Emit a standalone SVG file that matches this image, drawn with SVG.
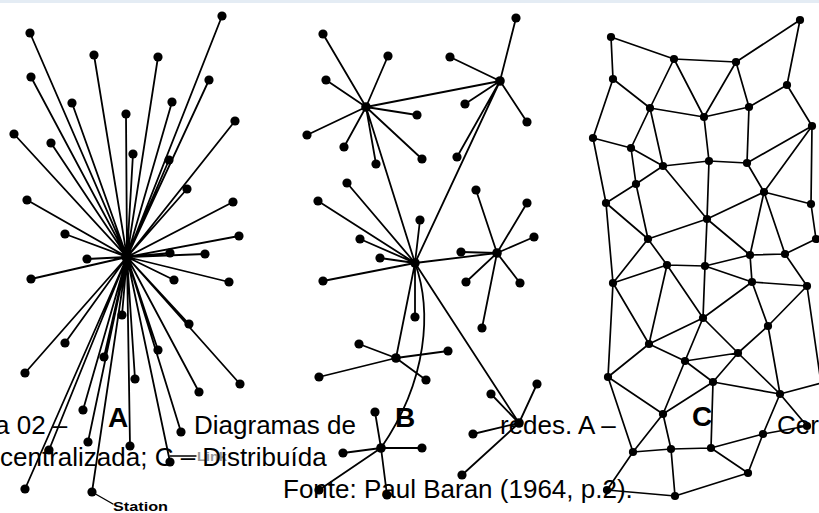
<svg xmlns="http://www.w3.org/2000/svg" width="819" height="513" viewBox="0 0 819 513">
<style>
.e{stroke:#000;stroke-width:1.8;fill:none;stroke-linecap:round}
.ec{stroke:#000;stroke-width:1.7;fill:none;stroke-linecap:round}
.n circle{fill:#000}
.cap{font-family:"Liberation Sans",Arial,sans-serif;font-size:26px;fill:#000}
.lbl{font-family:"Liberation Sans",Arial,sans-serif;font-size:28px;font-weight:bold;fill:#000}
.sm{font-family:"Liberation Sans",Arial,sans-serif;font-size:13px;font-weight:bold}
</style>
<rect x="0" y="0" width="819" height="513" fill="#fff"/>
<rect x="0" y="0" width="819" height="3" fill="#e4ecf4"/>

<g id="connectors">
 <g id="conn-A" class="e">
  <path d="M127,257L222,16M127,257L30,33M127,257L94,55M127,257L158,57M127,257L31,77M127,257L209,80M127,257L72,103M127,257L172,102M127,257L126,114M127,257L235,121M127,257L14,134M127,257L51,143M127,257L133,154M127,257L169,160M127,257L187,189M127,257L27,200M127,257L233,202M127,257L65,234M127,257L239,236M127,257L170,253M127,257L205,254M127,257L87,259M127,257L31,279M127,257L174,280M127,257L229,282M127,257L122,315M127,257L189,324M127,257L65,343M127,257L104,357M127,257L158,350M127,257L25,373M127,257L135,379M127,257L240,384M127,257L199,392M127,257L83,410M127,257L181,432M127,257L88,442M127,257L130,446M127,257L49,450M127,257L170,462M127,257L25,489M127,257L92,492"/>
  <path d="M92,492L113,504" stroke-width="1.4"/>
  <path d="M170,456L196,456" stroke-width="1.4"/>
 </g>
 <g id="conn-B" class="e">
  <path d="M366,107L323,34M366,107L388,56M366,107L326,80M366,107L417,115M366,107L307,135M366,107L344,147M366,107L422,159M366,107L376,164M366,107L500,81M366,107L415,263"/>
  <path d="M500,81L516,18M500,81L450,57M500,81L465,104M500,81L527,122M500,81L457,157M500,81L415,263"/>
  <path d="M415,263L347,183M415,263L318,201M415,263L420,220M415,263L360,239M415,263L380,258M415,263L323,281M415,263L415,317M415,263L497,253M415,263L396,358M415,263L519,423"/>
  <path d="M415,263C432,310 428,380 381,448"/>
  <path d="M497,253L476,190M497,253L527,203M497,253L534,237M497,253L461,252M497,253L466,282M497,253L520,283M497,253L482,328"/>
  <path d="M396,358L359,344M396,358L448,351M396,358L319,377M396,358L426,380"/>
  <path d="M519,423L491,394M519,423L537,384M519,423L473,434M519,423L462,475"/>
  <path d="M381,448L375,412M381,448L343,453M381,448L422,448M381,448L319,490M381,448L387,495"/>
 </g>
 <g id="conn-C" class="ec">
  <path d="M611,37L674,59M611,37L613,79M674,59L736,62M736,62L800,20M800,20L787,85M674,59L650,108M674,59L704,117M736,62L704,117M736,62L749,107M787,85L749,107M787,85L812,126M613,79L650,108M613,79L593,138M650,108L704,117M704,117L749,107M650,108L631,148M650,108L663,166M593,138L631,148M593,138L606,203M631,148L663,166M631,148L636,184M663,166L709,161M709,161L747,163M704,117L709,161M749,107L747,163M747,163L812,126M812,126L764,192M747,163L764,192M812,126L811,204M663,166L636,184M636,184L606,203M636,184L648,239M663,166L707,219M709,161L707,219M764,192L707,219M764,192L811,204M764,192L750,255M764,192L785,254M606,203L648,239M707,219L648,239M707,219L750,255M811,204L816,239M816,239L785,254M750,255L785,254"/>
  <path d="M606,203L613,283M648,239L613,283M648,239L667,265M707,219L705,266M750,255L752,282M785,254L807,286M705,266L750,255"/>
  <path d="M667,265L705,266M705,266L752,282M752,282L807,286M613,283L667,265M667,265L649,344M667,265L703,318M705,266L703,318M752,282L703,318M752,282L768,326M807,286L768,326M768,326L738,353M768,326L780,394M807,286L821,383M613,283L649,344M613,283L608,377M703,318L649,344M703,318L685,361M703,318L738,353M649,344L685,361M649,344L608,377M685,361L738,353M685,361L713,382M685,361L663,414M738,353L713,382M738,353L780,394M608,377L663,414M608,377L633,452M713,382L663,414M713,382L780,394M713,382L711,448M780,394L821,383M780,394L763,434M780,394L807,426M763,434L807,426M663,414L633,452M663,414L671,449M763,434L711,448M763,434L748,473M633,452L671,449M671,449L711,448M711,448L748,473M633,452L607,490M671,449L675,496M748,473L675,496M607,490L675,496"/>
 </g>
</g>

<g class="n">
 <g id="a0"><circle cx="127" cy="257" r="5.8"/></g>
 <g id="a1"><circle cx="222" cy="16" r="4.6"/></g>
 <g id="a2"><circle cx="30" cy="33" r="4.6"/></g>
 <g id="a3"><circle cx="94" cy="55" r="4.6"/></g>
 <g id="a4"><circle cx="158" cy="57" r="4.6"/></g>
 <g id="a5"><circle cx="31" cy="77" r="4.6"/></g>
 <g id="a6"><circle cx="209" cy="80" r="4.6"/></g>
 <g id="a7"><circle cx="72" cy="103" r="4.6"/></g>
 <g id="a8"><circle cx="172" cy="102" r="4.6"/></g>
 <g id="a9"><circle cx="126" cy="114" r="4.6"/></g>
 <g id="a10"><circle cx="235" cy="121" r="4.6"/></g>
 <g id="a11"><circle cx="14" cy="134" r="4.6"/></g>
 <g id="a12"><circle cx="51" cy="143" r="4.6"/></g>
 <g id="a13"><circle cx="133" cy="154" r="4.6"/></g>
 <g id="a14"><circle cx="169" cy="160" r="4.6"/></g>
 <g id="a15"><circle cx="187" cy="189" r="4.6"/></g>
 <g id="a16"><circle cx="27" cy="200" r="4.6"/></g>
 <g id="a17"><circle cx="233" cy="202" r="4.6"/></g>
 <g id="a18"><circle cx="65" cy="234" r="4.6"/></g>
 <g id="a19"><circle cx="239" cy="236" r="4.6"/></g>
 <g id="a20"><circle cx="170" cy="253" r="4.6"/></g>
 <g id="a21"><circle cx="205" cy="254" r="4.6"/></g>
 <g id="a22"><circle cx="87" cy="259" r="4.6"/></g>
 <g id="a23"><circle cx="31" cy="279" r="4.6"/></g>
 <g id="a24"><circle cx="174" cy="280" r="4.6"/></g>
 <g id="a25"><circle cx="229" cy="282" r="4.6"/></g>
 <g id="a26"><circle cx="122" cy="315" r="4.6"/></g>
 <g id="a27"><circle cx="189" cy="324" r="4.6"/></g>
 <g id="a28"><circle cx="65" cy="343" r="4.6"/></g>
 <g id="a29"><circle cx="104" cy="357" r="4.6"/></g>
 <g id="a30"><circle cx="158" cy="350" r="4.6"/></g>
 <g id="a31"><circle cx="25" cy="373" r="4.6"/></g>
 <g id="a32"><circle cx="135" cy="379" r="4.6"/></g>
 <g id="a33"><circle cx="240" cy="384" r="4.6"/></g>
 <g id="a34"><circle cx="199" cy="392" r="4.6"/></g>
 <g id="a35"><circle cx="83" cy="410" r="4.6"/></g>
 <g id="a36"><circle cx="181" cy="432" r="4.6"/></g>
 <g id="a37"><circle cx="88" cy="442" r="4.6"/></g>
 <g id="a38"><circle cx="130" cy="446" r="4.6"/></g>
 <g id="a39"><circle cx="49" cy="450" r="4.6"/></g>
 <g id="a40"><circle cx="170" cy="462" r="4.6"/></g>
 <g id="a41"><circle cx="25" cy="489" r="4.6"/></g>
 <g id="a42"><circle cx="92" cy="492" r="4.6"/></g>

 <g id="b1"><circle cx="366" cy="107" r="4.8"/></g>
 <g id="b2"><circle cx="500" cy="81" r="4.8"/></g>
 <g id="b3"><circle cx="415" cy="263" r="4.8"/></g>
 <g id="b4"><circle cx="497" cy="253" r="4.8"/></g>
 <g id="b5"><circle cx="396" cy="358" r="4.8"/></g>
 <g id="b6"><circle cx="519" cy="423" r="4.8"/></g>
 <g id="b7"><circle cx="381" cy="448" r="4.8"/></g>
 <g id="b1-1"><circle cx="323" cy="34" r="4.6"/></g>
 <g id="b1-2"><circle cx="388" cy="56" r="4.6"/></g>
 <g id="b1-3"><circle cx="326" cy="80" r="4.6"/></g>
 <g id="b1-4"><circle cx="417" cy="115" r="4.6"/></g>
 <g id="b1-5"><circle cx="307" cy="135" r="4.6"/></g>
 <g id="b1-6"><circle cx="344" cy="147" r="4.6"/></g>
 <g id="b1-7"><circle cx="422" cy="159" r="4.6"/></g>
 <g id="b1-8"><circle cx="376" cy="164" r="4.6"/></g>
 <g id="b2-1"><circle cx="516" cy="18" r="4.6"/></g>
 <g id="b2-2"><circle cx="450" cy="57" r="4.6"/></g>
 <g id="b2-3"><circle cx="465" cy="104" r="4.6"/></g>
 <g id="b2-4"><circle cx="527" cy="122" r="4.6"/></g>
 <g id="b2-5"><circle cx="457" cy="157" r="4.6"/></g>
 <g id="b3-1"><circle cx="347" cy="183" r="4.6"/></g>
 <g id="b3-2"><circle cx="318" cy="201" r="4.6"/></g>
 <g id="b3-3"><circle cx="420" cy="220" r="4.6"/></g>
 <g id="b3-4"><circle cx="360" cy="239" r="4.6"/></g>
 <g id="b3-5"><circle cx="380" cy="258" r="4.6"/></g>
 <g id="b3-6"><circle cx="323" cy="281" r="4.6"/></g>
 <g id="b3-7"><circle cx="415" cy="317" r="4.6"/></g>
 <g id="b4-1"><circle cx="476" cy="190" r="4.6"/></g>
 <g id="b4-2"><circle cx="527" cy="203" r="4.6"/></g>
 <g id="b4-3"><circle cx="534" cy="237" r="4.6"/></g>
 <g id="b4-4"><circle cx="461" cy="252" r="4.6"/></g>
 <g id="b4-5"><circle cx="466" cy="282" r="4.6"/></g>
 <g id="b4-6"><circle cx="520" cy="283" r="4.6"/></g>
 <g id="b4-7"><circle cx="482" cy="328" r="4.6"/></g>
 <g id="b5-1"><circle cx="359" cy="344" r="4.6"/></g>
 <g id="b5-2"><circle cx="448" cy="351" r="4.6"/></g>
 <g id="b5-3"><circle cx="319" cy="377" r="4.6"/></g>
 <g id="b5-4"><circle cx="426" cy="380" r="4.6"/></g>
 <g id="b6-1"><circle cx="491" cy="394" r="4.6"/></g>
 <g id="b6-2"><circle cx="537" cy="384" r="4.6"/></g>
 <g id="b6-3"><circle cx="473" cy="434" r="4.6"/></g>
 <g id="b6-4"><circle cx="462" cy="475" r="4.6"/></g>
 <g id="b7-1"><circle cx="375" cy="412" r="4.6"/></g>
 <g id="b7-2"><circle cx="343" cy="453" r="4.6"/></g>
 <g id="b7-3"><circle cx="422" cy="448" r="4.6"/></g>
 <g id="b7-4"><circle cx="319" cy="490" r="4.6"/></g>
 <g id="b7-5"><circle cx="387" cy="495" r="4.6"/></g>

 <g id="c1"><circle cx="611" cy="37" r="4.1"/></g>
 <g id="c2"><circle cx="674" cy="59" r="4.1"/></g>
 <g id="c3"><circle cx="736" cy="62" r="4.1"/></g>
 <g id="c4"><circle cx="800" cy="20" r="4.1"/></g>
 <g id="c5"><circle cx="613" cy="79" r="4.1"/></g>
 <g id="c6"><circle cx="787" cy="85" r="4.1"/></g>
 <g id="c7"><circle cx="650" cy="108" r="4.1"/></g>
 <g id="c8"><circle cx="704" cy="117" r="4.1"/></g>
 <g id="c9"><circle cx="749" cy="107" r="4.1"/></g>
 <g id="c10"><circle cx="812" cy="126" r="4.1"/></g>
 <g id="c11"><circle cx="593" cy="138" r="4.1"/></g>
 <g id="c12"><circle cx="631" cy="148" r="4.1"/></g>
 <g id="c13"><circle cx="663" cy="166" r="4.1"/></g>
 <g id="c14"><circle cx="709" cy="161" r="4.1"/></g>
 <g id="c15"><circle cx="747" cy="163" r="4.1"/></g>
 <g id="c16"><circle cx="636" cy="184" r="4.1"/></g>
 <g id="c17"><circle cx="764" cy="192" r="4.1"/></g>
 <g id="c18"><circle cx="606" cy="203" r="4.1"/></g>
 <g id="c19"><circle cx="811" cy="204" r="4.1"/></g>
 <g id="c20"><circle cx="707" cy="219" r="4.1"/></g>
 <g id="c21"><circle cx="648" cy="239" r="4.1"/></g>
 <g id="c22"><circle cx="816" cy="239" r="4.1"/></g>
 <g id="c23"><circle cx="750" cy="255" r="4.1"/></g>
 <g id="c24"><circle cx="785" cy="254" r="4.1"/></g>
 <g id="c25"><circle cx="667" cy="265" r="4.1"/></g>
 <g id="c26"><circle cx="705" cy="266" r="4.1"/></g>
 <g id="c27"><circle cx="752" cy="282" r="4.1"/></g>
 <g id="c28"><circle cx="807" cy="286" r="4.1"/></g>
 <g id="c29"><circle cx="613" cy="283" r="4.1"/></g>
 <g id="c30"><circle cx="703" cy="318" r="4.1"/></g>
 <g id="c31"><circle cx="768" cy="326" r="4.1"/></g>
 <g id="c32"><circle cx="649" cy="344" r="4.1"/></g>
 <g id="c33"><circle cx="685" cy="361" r="4.1"/></g>
 <g id="c34"><circle cx="738" cy="353" r="4.1"/></g>
 <g id="c35"><circle cx="608" cy="377" r="4.1"/></g>
 <g id="c36"><circle cx="713" cy="382" r="4.1"/></g>
 <g id="c37"><circle cx="780" cy="394" r="4.1"/></g>
 <g id="c38"><circle cx="663" cy="414" r="4.1"/></g>
 <g id="c39"><circle cx="763" cy="434" r="4.1"/></g>
 <g id="c40"><circle cx="633" cy="452" r="4.1"/></g>
 <g id="c41"><circle cx="671" cy="449" r="4.1"/></g>
 <g id="c42"><circle cx="711" cy="448" r="4.1"/></g>
 <g id="c43"><circle cx="748" cy="473" r="4.1"/></g>
 <g id="c44"><circle cx="607" cy="490" r="4.1"/></g>
 <g id="c45"><circle cx="675" cy="496" r="4.1"/></g>
 <g id="c46"><circle cx="807" cy="426" r="4.1"/></g>
</g>

<g id="labels">
 <text class="sm" x="113" y="511" fill="#000" textLength="55" lengthAdjust="spacingAndGlyphs">Station</text>
 <text class="sm" x="197" y="461" fill="#999" textLength="30" lengthAdjust="spacingAndGlyphs">Link</text>
 <text class="lbl" x="108" y="427">A</text>
 <text class="lbl" x="395" y="427">B</text>
 <text class="lbl" x="692" y="426">C</text>
</g>

<g id="caption">
 <text class="cap" x="-5" y="434">a 02 –</text>
 <text class="cap" x="194" y="434">Diagramas de</text>
 <text class="cap" x="500" y="434">redes. A –</text>
 <text class="cap" x="777" y="434">Cer</text>
 <text class="cap" x="0" y="466">centralizada; C – Distribuída</text>
 <text class="cap" x="283" y="498">Fonte: Paul Baran (1964, p.2).</text>
</g>
</svg>
